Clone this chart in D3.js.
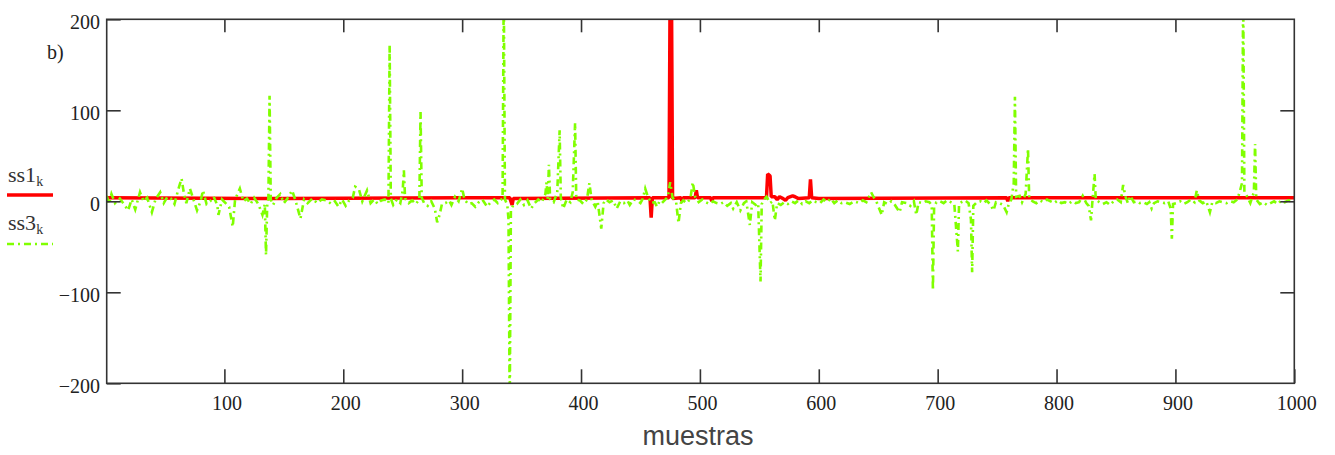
<!DOCTYPE html>
<html>
<head>
<meta charset="utf-8">
<script src="https://cdn.jsdelivr.net/npm/d3@7"></script>
<style>
  html, body { margin: 0; padding: 0; background: #fff; }
  svg { display: block; }
</style>
</head>
<body>
<svg id="chart" width="1335" height="455"></svg>
<script>
// ---- data ----
const xTicks = [100, 200, 300, 400, 500, 600, 700, 800, 900, 1000];
const yTicks = [-200, -100, 0, 100, 200];

// ss1_k (red): sample index / value
const ss1Samples = [1, 150, 300, 340, 341, 342, 343, 458, 459, 460, 474, 475, 476, 477, 484, 485, 486, 496, 497, 498, 509, 510, 511, 556, 557, 558, 559, 560, 563, 565, 567, 570, 572, 574, 578, 580, 583, 592, 593, 594, 600, 758, 759, 760, 1000];
const ss1Values  = [4, 3, 4, 4, 0, -4, 3, 4, -18, 4, 4, 250, 250, 3, 4, 0, 4, 4, 12, 4, 4, 0, 4, 4, 30, 29, 28, 5, 5, 2, 5, 3, 1, 4, 6, 5, 3, 4, 24, 4, 3, 4, 0, 4, 4];

// ss3_k (green, dash-dot): sample index / value
const ss3Samples = [1,3,5,8,12,16,19,22,25,29,32,35,39,42,46,49,52,55,58,61,64,66,68,71,74,77,80,82,85,88,91,94,95,98,101,104,107,109,113,116,119,122,125,128,130,132,134,135,136,137,138,139,141,144,147,150,153,157,160,164,167,170,174,178,182,186,190,193,196,199,202,205,208,210,213,216,220,223,226,229,232,235,238,239,240,242,245,248,250,251,252,255,258,261,264,265,266,268,271,274,277,279,281,283,286,289,291,294,297,300,302,305,308,311,314,317,321,324,327,330,332,334,335,336,338,339,340,341,343,346,349,352,355,358,361,364,367,370,371,372,373,374,377,380,382,383,385,388,391,393,395,396,399,402,405,407,409,412,414,417,419,421,424,427,430,433,436,439,441,444,447,450,452,454,456,459,462,464,466,468,471,473,475,477,480,482,484,486,489,492,494,496,499,502,505,508,511,514,517,520,523,526,528,531,534,537,539,542,544,547,549,551,552,554,556,559,561,563,565,568,571,574,577,580,583,586,589,592,595,598,601,604,607,610,613,616,619,622,626,630,634,637,640,644,646,649,653,655,658,661,664,668,670,674,677,680,682,684,687,690,693,695,696,697,699,702,705,708,711,714,717,718,720,723,726,728,729,730,733,736,739,741,744,747,749,752,755,758,760,762,764,765,766,769,771,774,776,777,780,783,786,789,792,795,798,801,804,807,810,813,816,819,822,825,827,829,830,832,833,836,839,842,845,848,851,854,856,858,860,862,865,868,870,873,876,878,880,882,885,888,891,894,896,897,898,901,904,907,910,913,916,918,920,923,926,929,931,934,937,940,943,946,949,952,954,956,957,958,960,963,966,967,968,971,974,977,980,983,986,989,992,995,998,1000];
const ss3Values  = [6,-3,8,-2,3,-4,-10,2,-9,10,0,4,-12,2,10,-2,5,3,-3,12,25,8,-2,14,2,-10,0,12,-3,0,5,-4,-15,2,-2,-6,-28,2,14,0,3,-3,4,-2,-8,-15,-3,-59,-5,3,116,2,-4,4,8,-2,3,12,0,-19,2,-2,3,-2,2,1,-3,0,-6,2,-5,1,4,16,14,0,12,-2,2,-3,1,2,-2,172,3,-4,2,-2,12,34,3,-2,1,-3,2,98,4,-2,-5,0,-8,-23,-15,-3,-2,1,-4,5,0,14,2,-3,-2,-6,-1,2,-6,-1,2,-2,1,3,240,2,-4,-20,-230,-10,-4,-3,2,-4,1,-8,-2,2,-1,8,21,3,40,2,-1,10,78,4,-8,2,-1,10,86,2,1,-3,2,20,1,-6,0,-30,-2,2,-1,1,-8,0,-2,1,-4,2,1,-2,3,14,6,-2,-1,-6,0,-2,2,5,21,4,-1,-24,-2,1,-2,3,21,5,-1,2,-1,-3,0,-2,-3,-1,-5,-2,-8,-1,-10,-2,0,-26,-1,-4,-2,-88,-3,2,5,-2,0,-21,-2,-4,-1,-3,0,-2,1,-3,0,-2,1,-1,-2,2,-1,3,-2,1,-2,-1,-3,0,-2,1,-1,10,5,-2,-15,-1,-3,0,-4,-12,-1,-2,-5,0,-15,-1,-2,0,-1,-4,-98,-6,-1,0,-2,1,-1,-3,-55,-3,-1,1,-2,-20,-78,-5,-1,0,-2,1,-3,-10,-1,-2,-4,-12,-2,2,20,115,5,6,-1,8,58,3,0,-2,1,-1,2,0,-2,1,-2,-1,-3,0,-2,-1,6,-2,-5,-21,-3,30,2,-1,-3,-1,-4,0,2,-1,18,5,-2,6,-1,0,-2,-1,-3,-1,-8,-2,0,-1,-2,0,-8,-41,-3,-2,0,-3,-1,2,-1,12,1,-2,0,-12,-1,-2,0,-1,-2,0,-1,2,10,20,230,10,6,-2,10,63,2,-3,-1,-4,-2,0,-3,1,-1,1,0,-1];

// ---- layout ----
const svg = d3.select("#chart");
const W = 1335, H = 455;
const plot = { left: 106.7, right: 1294.3, top: 19.3, bottom: 383.3 };

const x = d3.scaleLinear().domain([1, 1000]).range([plot.left, plot.right]);
const y = d3.scaleLinear().domain([-200, 200]).range([plot.bottom, plot.top]);

svg.append("rect").attr("width", W).attr("height", H).attr("fill", "#fff");

svg.append("defs").append("clipPath").attr("id", "clip")
  .append("rect")
  .attr("x", plot.left).attr("y", plot.top)
  .attr("width", plot.right - plot.left).attr("height", plot.bottom - plot.top);

const serif = "'Liberation Serif', 'Times New Roman', serif";
const axisColor = "#333";

// ---- series ----
const line = d3.line().x(d => x(d[0])).y(d => y(d[1]));
const ss1 = ss1Samples.map((s, i) => [s, ss1Values[i]]);
const ss3 = ss3Samples.map((s, i) => [s, ss3Values[i]]);

const gData = svg.append("g").attr("clip-path", "url(#clip)");
gData.append("path").datum(ss1)
  .attr("d", line).attr("fill", "none")
  .attr("stroke", "#ff0000").attr("stroke-width", 3.5)
  .attr("stroke-linejoin", "bevel");
gData.append("path").datum(ss3)
  .attr("d", line).attr("fill", "none")
  .attr("stroke", "#80ff00").attr("stroke-width", 2.6)
  .attr("stroke-dasharray", "7,4,2,4");

// ---- axes ----
function styleAxis(g) {
  g.select(".domain").remove();
  g.selectAll(".tick line").attr("stroke", axisColor).attr("stroke-width", 1.6);
  g.selectAll(".tick text").attr("fill", "#222")
    .style("font-family", serif).style("font-size", "20px");
}

const bottomAxis = svg.append("g")
  .attr("transform", `translate(0,${plot.bottom})`)
  .call(d3.axisBottom(x).tickValues(xTicks).tickSize(-14).tickPadding(13).tickFormat(d3.format("d")))
  .call(styleAxis);
bottomAxis.selectAll(".tick text").attr("dx", 2);

svg.append("g")
  .attr("transform", `translate(0,${plot.top})`)
  .call(d3.axisTop(x).tickValues(xTicks.filter(v => v < 1000)).tickSize(-13).tickFormat(() => ""))
  .call(styleAxis);

svg.append("g")
  .attr("transform", `translate(${plot.left},0)`)
  .call(d3.axisLeft(y).tickValues(yTicks).tickSize(-14).tickPadding(6.7).tickFormat(d3.format("d")))
  .call(styleAxis)
  .selectAll(".tick text").attr("dy", "0.48em");

svg.append("g")
  .attr("transform", `translate(${plot.right},0)`)
  .call(d3.axisRight(y).tickValues(yTicks.filter(v => Math.abs(v) < 200)).tickSize(-14).tickFormat(() => ""))
  .call(styleAxis);

// frame
svg.append("rect")
  .attr("x", plot.left).attr("y", plot.top)
  .attr("width", plot.right - plot.left).attr("height", plot.bottom - plot.top)
  .attr("fill", "none").attr("stroke", axisColor).attr("stroke-width", 1.6);

// ---- texts ----
svg.append("text").attr("x", 47).attr("y", 59)
  .style("font-family", serif).style("font-size", "20px").attr("fill", "#222")
  .text("b)");

svg.append("text").attr("x", 698).attr("y", 445).attr("text-anchor", "middle")
  .style("font-family", "'Liberation Sans', Arial, sans-serif").style("font-size", "27px")
  .attr("fill", "#444").text("muestras");

// legend
const legend = [
  { name: "ss1", sub: "k", color: "#ff0000", dash: null, width: 3.5, ty: 182, ly: 195 },
  { name: "ss3", sub: "k", color: "#80ff00", dash: "7,4,2,4", width: 2.6, ty: 230, ly: 244 }
];
legend.forEach(L => {
  const t = svg.append("text").attr("x", 8).attr("y", L.ty)
    .style("font-family", serif).style("font-size", "22px").attr("fill", "#333");
  t.append("tspan").text(L.name);
  t.append("tspan").attr("dy", 4).style("font-size", "14px").text(L.sub);
  svg.append("line").attr("x1", 7).attr("x2", 53).attr("y1", L.ly).attr("y2", L.ly)
    .attr("stroke", L.color).attr("stroke-width", L.width)
    .attr("stroke-dasharray", L.dash);
});
</script>
</body>
</html>
